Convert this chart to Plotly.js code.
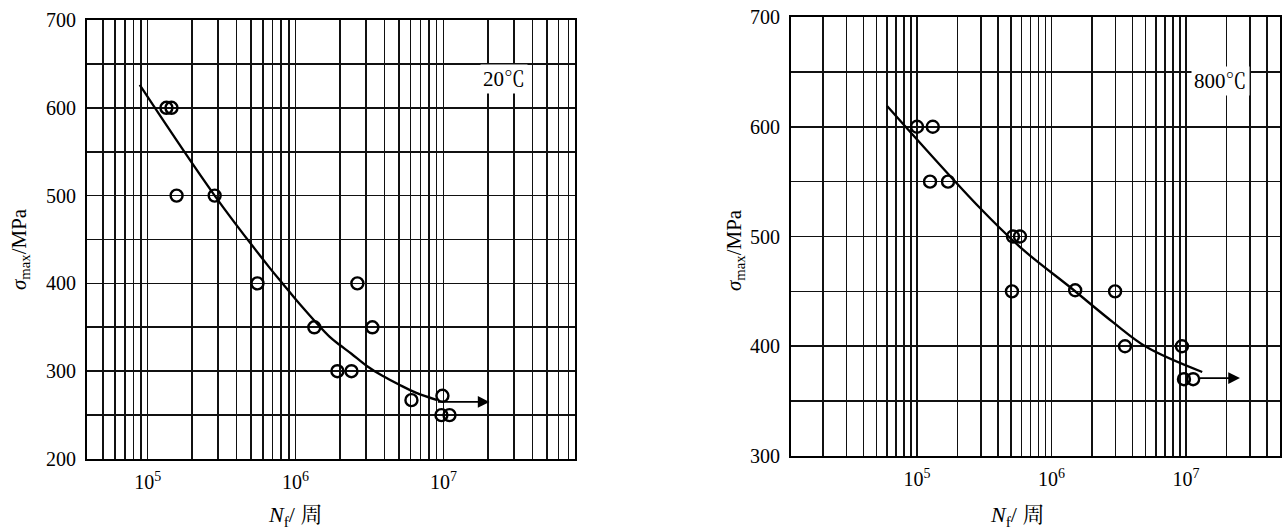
<!DOCTYPE html>
<html>
<head>
<meta charset="utf-8">
<script src="https://cdn.plot.ly/plotly-3.0.1.min.js"></script>
<style>html,body{margin:0;padding:0;background:#fff;}#chart{width:1287px;height:531px;}</style>
</head>
<body>
<div id="chart"></div>
<script>
// ---- 20 ℃ data (left panel) ----
const leftN = [1.34e5, 1.45e5, 1.57e5, 2.84e5, 5.53e5, 1.34e6, 2.62e6, 3.31e6, 1.92e6, 2.39e6, 6.08e6, 9.85e6, 9.7e6, 1.1e7];
const leftS = [600, 600, 500, 500, 400, 350, 400, 350, 300, 300, 267, 272, 250, 250];
const leftCurveN = [8.84e4, 2.84e5, 6.67e5, 8.17e5, 1.06e6, 1.697e6, 1.983e6, 2.388e6, 3.018e6, 3.87e6, 5.04e6, 6.57e6, 8.97e6];
const leftCurveS = [626, 500, 418, 400, 377, 339.3, 330.1, 319.9, 306.2, 294.7, 284.5, 275.3, 267.4];
const leftArrowN = [8.97e6, 2.05e7];
const leftArrowS = [265, 265];

// ---- 800 ℃ data (right panel) ----
const rightN = [1.0e5, 1.31e5, 1.25e5, 1.70e5, 5.17e5, 5.83e5, 5.08e5, 1.50e6, 2.97e6, 3.52e6, 9.33e6, 9.66e6, 1.13e7];
const rightS = [600, 600, 550, 550, 500, 500, 450, 451, 450, 400, 400, 370, 370];
const rightCurveN = [5.99e4, 2.94e5, 6.14e5, 1.37e6, 2.86e6, 5.13e6, 1.32e7];
const rightCurveS = [619, 526, 488, 454, 422, 399, 376.5];
const rightArrowN = [1.23e7, 2.52e7];
const rightArrowS = [371, 371];

// ---- ticks / gridlines ----
const leftXGrid = [5e4,6e4,7e4,8e4,9e4,1e5,2e5,3e5,4e5,5e5,6e5,7e5,8e5,9e5,1e6,2e6,3e6,4e6,5e6,6e6,7e6,8e6,9e6,1e7,2e7,3e7,4e7,5e7,6e7,7e7];
const rightXGrid = [2e4,3e4,4e4,5e4,6e4,7e4,8e4,9e4,1e5,2e5,3e5,4e5,5e5,6e5,7e5,8e5,9e5,1e6,2e6,3e6,4e6,5e6,6e6,7e6,8e6,9e6,1e7,2e7,3e7,4e7];
const decadeLabels = {1e5: '10<sup>5</sup>', 1e6: '10<sup>6</sup>', 1e7: '10<sup>7</sup>'};
const leftYGrid = [200,250,300,350,400,450,500,550,600,650,700];
const leftYText = ['200','','300','','400','','500','','600','','700'];
const rightYGrid = [300,350,400,450,500,550,600,650,700];
const rightYText = ['300','','400','','500','','600','','700'];
const labelLeft = '20℃';
const labelRight = '800℃';
const yTitle = '<i>σ</i><sub>max</sub>/MPa';
const xTitle = '<i>N</i><sub>f</sub>/ 周';

const FONT = '"Liberation Serif", "Times New Roman", "Noto Serif CJK SC", "Noto Sans CJK SC", serif';
const W = 1287, H = 531;
function px(x){return x/W;}
function py(y){return 1 - y/H;}

function xt(grid){return grid.map(v => decadeLabels[v] || '');}

const markerStyle = {symbol:'circle-open', size:12, color:'#000', line:{color:'#000', width:2.4}};

const traces = [
  {x:leftCurveN, y:leftCurveS, xaxis:'x', yaxis:'y', mode:'lines', line:{color:'#000', width:2.3, shape:'spline', smoothing:1}, hoverinfo:'skip'},
  {x:leftN, y:leftS, xaxis:'x', yaxis:'y', mode:'markers', marker:markerStyle},
  {x:rightCurveN, y:rightCurveS, xaxis:'x2', yaxis:'y2', mode:'lines', line:{color:'#000', width:2.3, shape:'spline', smoothing:1}, hoverinfo:'skip'},
  {x:rightN, y:rightS, xaxis:'x2', yaxis:'y2', mode:'markers', marker:markerStyle}
];

function xAxis(grid, range, domain, anchor){
  return {type:'log', range:range, domain:domain, anchor:anchor,
    tickmode:'array', tickvals:grid, ticktext:xt(grid), ticks:'', ticklabelstandoff:4,
    showgrid:true, gridcolor:'#111', gridwidth:1.6, zeroline:false,
    showline:true, mirror:true, linecolor:'#000', linewidth:2,
    tickfont:{family:FONT, size:20, color:'#000'}, fixedrange:true};
}
function yAxis(vals, text, range, domain, anchor){
  return {range:range, domain:domain, anchor:anchor,
    tickmode:'array', tickvals:vals, ticktext:text, ticks:'', ticklabelstandoff:5,
    showgrid:true, gridcolor:'#111', gridwidth:1.6, zeroline:false,
    showline:true, mirror:true, linecolor:'#000', linewidth:2,
    tickfont:{family:FONT, size:20, color:'#000'}, fixedrange:true};
}

const ann = [
  {xref:'x', yref:'y', axref:'x', ayref:'y', x:Math.log10(leftArrowN[1]), y:leftArrowS[1], ax:Math.log10(leftArrowN[0]), ay:leftArrowS[0], text:'', showarrow:true, arrowhead:2, arrowsize:1.3, arrowwidth:1.8, arrowcolor:'#000'},
  {xref:'x2', yref:'y2', axref:'x2', ayref:'y2', x:Math.log10(rightArrowN[1]), y:rightArrowS[1], ax:Math.log10(rightArrowN[0]), ay:rightArrowS[0], text:'', showarrow:true, arrowhead:2, arrowsize:1.3, arrowwidth:1.8, arrowcolor:'#000'},
  {xref:'paper', yref:'paper', x:px(504), y:py(79), xanchor:'center', yanchor:'middle', text:labelLeft, showarrow:false, bgcolor:'#fff', font:{family:FONT, size:21, color:'#000'}, borderpad:2},
  {xref:'paper', yref:'paper', x:px(1220), y:py(81), xanchor:'center', yanchor:'middle', text:labelRight, showarrow:false, bgcolor:'#fff', font:{family:FONT, size:21, color:'#000'}, borderpad:2},
  {xref:'paper', yref:'paper', x:px(20), y:py(249), xanchor:'center', yanchor:'middle', text:yTitle, textangle:-90, showarrow:false, font:{family:FONT, size:21, color:'#000'}},
  {xref:'paper', yref:'paper', x:px(735), y:py(250), xanchor:'center', yanchor:'middle', text:yTitle, textangle:-90, showarrow:false, font:{family:FONT, size:21, color:'#000'}},
  {xref:'paper', yref:'paper', x:px(295), y:py(516), xanchor:'center', yanchor:'middle', text:xTitle, showarrow:false, font:{family:FONT, size:22, color:'#000'}},
  {xref:'paper', yref:'paper', x:px(1017), y:py(516), xanchor:'center', yanchor:'middle', text:xTitle, showarrow:false, font:{family:FONT, size:22, color:'#000'}}
];

const layout = {
  width:W, height:H, margin:{l:0, r:0, t:0, b:0}, showlegend:false,
  paper_bgcolor:'#fff', plot_bgcolor:'#fff',
  xaxis: xAxis(leftXGrid, [4.59, 7.89], [px(87), px(575)], 'y'),
  yaxis: yAxis(leftYGrid, leftYText, [200, 700], [py(459), py(20)], 'x'),
  xaxis2: xAxis(rightXGrid, [4.063, 7.699], [px(791), px(1280)], 'y2'),
  yaxis2: yAxis(rightYGrid, rightYText, [300, 700], [py(456), py(17)], 'x2'),
  annotations: ann
};

Plotly.newPlot('chart', traces, layout, {staticPlot:true, displayModeBar:false});
</script>
</body>
</html>
